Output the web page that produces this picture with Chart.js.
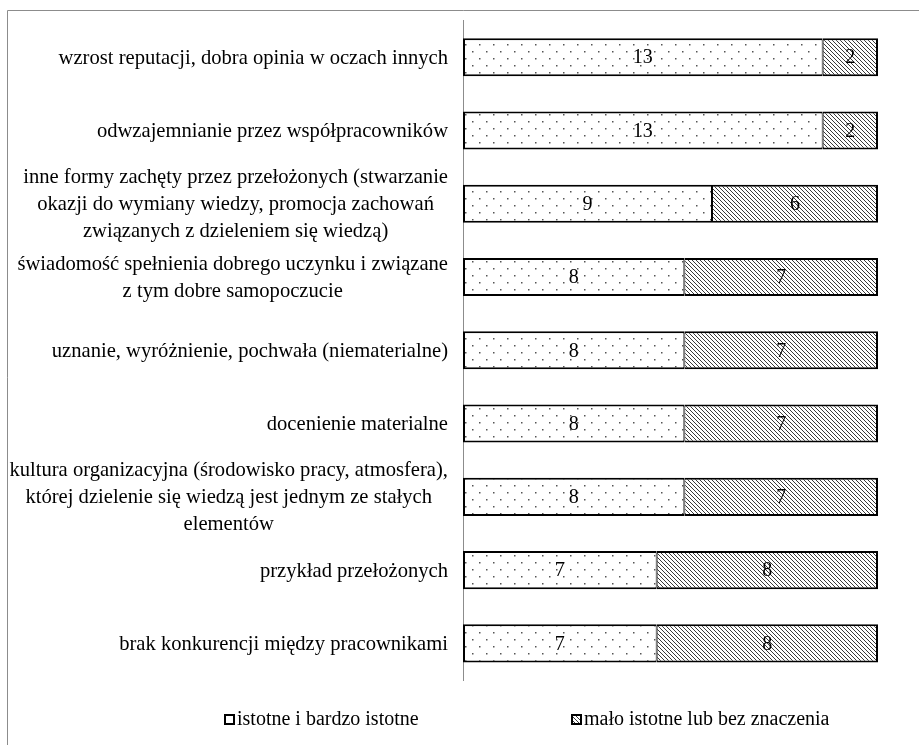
<!DOCTYPE html>
<html>
<head>
<meta charset="utf-8">
<script src="https://cdn.jsdelivr.net/npm/chart.js@4/dist/chart.umd.min.js"></script>
<style>
  html, body { margin: 0; padding: 0; background: #fff; }
  canvas { display: block; }
</style>
</head>
<body>
<canvas id="chart" width="919" height="745"></canvas>
<script>
// Motivating factors for knowledge sharing (number of answers)
const categories = [
  'wzrost reputacji, dobra opinia w oczach innych',
  'odwzajemnianie przez współpracowników',
  ['inne formy zachęty przez przełożonych (stwarzanie', 'okazji do wymiany wiedzy, promocja zachowań', 'związanych z dzieleniem się wiedzą)'],
  ['świadomość spełnienia dobrego uczynku i związane', 'z tym dobre samopoczucie'],
  'uznanie, wyróżnienie, pochwała (niematerialne)',
  'docenienie materialne',
  ['kultura organizacyjna (środowisko pracy, atmosfera),', 'której dzielenie się wiedzą jest jednym ze stałych', 'elementów'],
  'przykład przełożonych',
  'brak konkurencji między pracownikami'
];
const importantValues = [13, 13, 9, 8, 8, 8, 8, 7, 7];
const minorValues = [2, 2, 6, 7, 7, 7, 7, 8, 8];
const seriesNames = ['istotne i bardzo istotne', 'mało istotne lub bez znaczenia'];
const axisMax = 15;

const FONT = "'Liberation Serif', 'Times New Roman', serif";

function dotPattern() {
  const c = document.createElement('canvas');
  c.width = 14; c.height = 14;
  const g = c.getContext('2d');
  g.fillStyle = '#fff';
  g.fillRect(0, 0, 14, 14);
  g.fillStyle = '#555';
  g.fillRect(3, 2, 1.5, 1.5);
  g.fillRect(10, 9, 1.5, 1.5);
  return g.createPattern(c, 'repeat');
}

function hatchPattern() {
  const s = 4;
  const c = document.createElement('canvas');
  c.width = s; c.height = s;
  const g = c.getContext('2d');
  g.fillStyle = '#fff';
  g.fillRect(0, 0, s, s);
  g.strokeStyle = '#3a3a3a';
  g.lineWidth = 1;
  g.beginPath();
  g.moveTo(-1, -1); g.lineTo(s + 1, s + 1);
  g.moveTo(-1, s - 1); g.lineTo(1, s + 1);
  g.moveTo(s - 1, -1); g.lineTo(s + 1, 1);
  g.stroke();
  return g.createPattern(c, 'repeat');
}

const dots = dotPattern();
const hatch = hatchPattern();

const decor = {
  id: 'decor',
  beforeDraw(chart) {
    const ctx = chart.ctx;
    ctx.save();
    ctx.strokeStyle = '#8c8c8c';
    ctx.lineWidth = 1;
    ctx.beginPath();
    ctx.moveTo(7.5, chart.height);
    ctx.lineTo(7.5, 10.5);
    ctx.lineTo(chart.width, 10.5);
    ctx.stroke();
    ctx.restore();
  },
  afterDatasetsDraw(chart) {
    // value labels in the middle of each segment
    const ctx = chart.ctx;
    ctx.save();
    ctx.font = '20px ' + FONT;
    ctx.fillStyle = '#000';
    ctx.textAlign = 'center';
    ctx.textBaseline = 'middle';
    chart.data.datasets.forEach((ds, di) => {
      chart.getDatasetMeta(di).data.forEach((bar, i) => {
        const p = bar.getProps(['x', 'y', 'base'], true);
        ctx.fillText(String(ds.data[i]), (p.x + p.base) / 2, p.y + 1);
      });
    });
    ctx.restore();
  },
  afterDraw(chart) {
    const ctx = chart.ctx;
    const yScale = chart.scales.y;
    ctx.save();
    // category labels, lines centred on the widest line
    ctx.font = '20.6px ' + FONT;
    ctx.fillStyle = '#000';
    ctx.textAlign = 'center';
    ctx.textBaseline = 'middle';
    const lineH = 27;
    const rightEdge = 448;
    categories.forEach((lab, i) => {
      const lines = Array.isArray(lab) ? lab : [lab];
      const widest = Math.max(...lines.map(l => ctx.measureText(l).width));
      const cx = rightEdge - widest / 2;
      const cy = yScale.getPixelForValue(i);
      const y0 = cy - (lines.length - 1) * lineH / 2;
      lines.forEach((l, k) => ctx.fillText(l, cx, y0 + k * lineH + 1));
    });
    // legend
    const items = [
      { x: 224, fill: '#fff', text: seriesNames[0] },
      { x: 571, fill: hatch, text: seriesNames[1] }
    ];
    ctx.font = '20px ' + FONT;
    ctx.textAlign = 'left';
    items.forEach(it => {
      ctx.fillStyle = it.fill;
      ctx.fillRect(it.x, 714, 11, 11);
      ctx.strokeStyle = '#000';
      ctx.lineWidth = 2;
      ctx.strokeRect(it.x + 1, 715, 9, 9);
      ctx.fillStyle = '#000';
      ctx.fillText(it.text, it.x + 13, 720);
    });
    ctx.restore();
  }
};

new Chart(document.getElementById('chart'), {
  type: 'bar',
  data: {
    labels: categories,
    datasets: [
      {
        label: seriesNames[0],
        data: importantValues,
        backgroundColor: dots,
        borderColor: '#000',
        borderWidth: { left: 2, top: 2, bottom: 2, right: 1 },
        borderSkipped: false
      },
      {
        label: seriesNames[1],
        data: minorValues,
        backgroundColor: hatch,
        borderColor: '#000',
        borderWidth: { left: 1, top: 2, bottom: 2, right: 2 },
        borderSkipped: false
      }
    ]
  },
  plugins: [decor],
  options: {
    indexAxis: 'y',
    responsive: false,
    animation: false,
    devicePixelRatio: 1,
    layout: { padding: { top: 20.6, right: 41, bottom: 65, left: 0 } },
    datasets: { bar: { barPercentage: 0.52, categoryPercentage: 1 } },
    plugins: { legend: { display: false }, tooltip: { enabled: false } },
    scales: {
      x: { stacked: true, min: 0, max: axisMax, display: false },
      y: {
        stacked: true,
        ticks: { display: false },
        grid: { display: false, drawTicks: false },
        border: { display: true, color: '#8c8c8c', width: 1 },
        afterFit(scale) { scale.width = 463; }
      }
    }
  }
});
</script>
</body>
</html>
